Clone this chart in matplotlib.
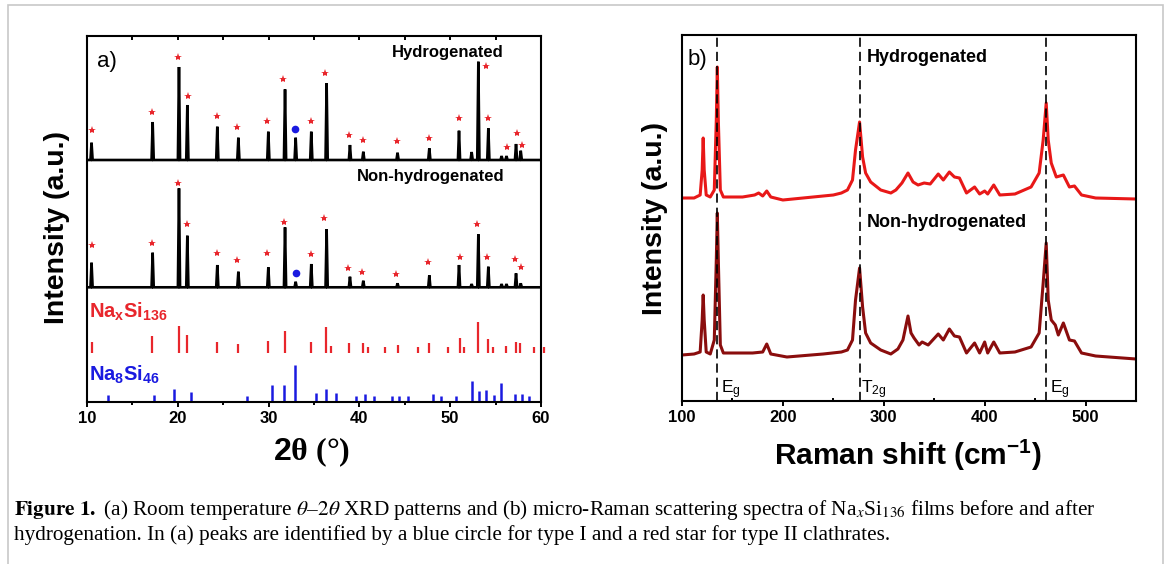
import numpy as np
import matplotlib
matplotlib.use("Agg")
import matplotlib.pyplot as plt
from matplotlib.patches import Rectangle

plt.rcParams["font.family"] = ["Liberation Sans", "DejaVu Sans"]
plt.rcParams["mathtext.fontset"] = "custom"
plt.rcParams["mathtext.rm"] = "Liberation Sans"
plt.rcParams["mathtext.it"] = "Liberation Sans:italic"
plt.rcParams["mathtext.bf"] = "Liberation Sans:bold"

# ---------------- data: (a) XRD ----------------
xrd_peaks = [10.5, 17.23, 20.13, 21.05, 24.35, 26.67, 29.97, 31.81, 32.98, 34.7, 36.39,
             38.96, 40.43, 44.2, 47.7, 50.97, 52.36, 53.1, 54.2, 55.66, 56.2, 57.25, 57.77]
xrd_hyd_heights = [17.3, 38, 93, 55, 33.3, 22.3, 28.3, 70.7, 22.3, 28.3, 76.7,
                   15, 8.3, 7.3, 11.7, 29.3, 8, 98.3, 31.7, 4, 4, 16, 9.3]
xrd_non_heights = [24.6, 34.6, 99, 51.6, 22.3, 15.6, 20, 60, 5.6, 23.3, 58,
                   10.6, 6.6, 4, 12, 22.3, 3.3, 53, 20.6, 3.3, 3.3, 14, 4]
xrd_hyd_offset = 242
xrd_non_offset = 114.7

hyd_star_x = [10.58, 17.12, 20.06, 21.09, 24.28, 26.55, 29.86, 31.62, 34.67, 36.21,
              38.85, 40.43, 44.1, 47.67, 50.97, 53.94, 54.13, 56.22, 57.32, 57.87]
hyd_star_y = [272, 290.3, 344.7, 306, 286, 275.3, 281.3, 322.7, 281.3, 328.7,
              267, 262, 261, 263.7, 283.7, 336.3, 283.7, 254.7, 268.7, 257]
non_star_x = [10.58, 17.12, 19.99, 20.98, 24.28, 26.55, 29.79, 31.70, 34.67, 36.10,
              38.71, 40.32, 44.03, 47.59, 51.08, 52.99, 54.02, 57.17, 57.80]
non_star_y = [157, 159.3, 219.3, 177.7, 148.7, 142, 148.7, 179.7, 147.7, 183.7,
              133.7, 129.7, 127.7, 139.7, 144.7, 177.7, 144.7, 142.7, 134.7]
circle_x = [32.91, 33.02]
circle_y = [272.7, 129.3]

na136_pos = [10.5, 17.2, 20.1, 21.0, 24.35, 26.6, 29.9, 31.8, 34.7, 36.3, 36.85, 38.9,
             40.35, 40.9, 42.8, 44.2, 46.4, 47.7, 49.8, 51.05, 51.5, 53.1, 54.2, 54.7,
             56.2, 57.3, 57.7, 59.2, 60.3]
na136_h = [11.6, 17.3, 27.3, 18.3, 11.6, 9.3, 12.3, 22.3, 11.6, 26, 7.6, 10,
           10, 6.6, 6.6, 8.3, 6.6, 10, 6.6, 15, 6.6, 31, 14.3, 6.6,
           7.6, 11, 10, 6.6, 6.6]
na136_base = 48.7
na46_pos = [12.3, 17.4, 19.55, 21.4, 27.6, 30.4, 31.7, 32.95, 35.25, 36.35, 37.45, 39.6,
            40.6, 41.6, 43.6, 44.4, 45.35, 48.1, 49.0, 50.65, 52.4, 53.15, 53.95, 54.8,
            55.6, 57.15, 57.9, 58.65]
na46_h = [5.7, 5.7, 11.4, 8.4, 4.7, 15.7, 15.7, 35.7, 7.4, 11.4, 8, 4.7,
          6.7, 5, 4.7, 5, 4.7, 6.7, 4.7, 4.7, 20, 10, 10.7, 5.7,
          17.4, 6.7, 6.7, 4.7]
na46_base = 1.3
xrd_ticks = [10, 20, 30, 40, 50, 60]

# ---------------- data: (b) Raman ----------------
raman_x_h = [100, 112, 118, 120, 121, 122, 124, 128, 132, 134,
             135, 136, 138, 141, 160, 172, 176, 180, 184, 188,
             200, 230, 250, 258, 264, 269, 272, 276, 279, 282,
             287, 297, 307, 312, 318, 324, 329, 334, 340, 346,
             354, 359, 365, 370, 375, 382, 390, 395, 400, 403,
             409, 415, 430, 446, 454, 458, 461, 463, 466, 471,
             478, 484, 489, 496, 510, 550]
raman_y_h = [203, 203, 206, 231, 263, 231, 206, 204, 211, 281,
             334, 281, 211, 204, 204, 206, 208, 205, 210, 204,
             201, 204, 206, 208, 211, 221, 251, 279, 244, 228,
             219, 211, 208, 211, 218, 228, 219, 216, 218, 217,
             227, 221, 229, 224, 223, 208, 214, 207, 210, 207,
             216, 206, 207, 214, 228, 261, 298, 261, 238, 224,
             226, 214, 215, 206, 203, 202]
raman_x_n = [100, 112, 118, 120, 121, 122, 124, 128, 132, 134,
             135, 136, 138, 141, 170, 180, 184, 188, 204, 240,
             258, 264, 269, 272, 276, 279, 282, 287, 297, 307,
             314, 319, 324, 327, 330, 335, 338, 344, 354, 359,
             365, 370, 375, 382, 390, 395, 400, 403, 409, 415,
             430, 446, 454, 458, 461, 463, 466, 470, 473, 478,
             484, 489, 496, 510, 550]
raman_y_n = [46, 47, 49, 81, 106, 81, 49, 47, 61, 141,
             188, 141, 56, 48, 48, 49, 57, 47, 44, 47,
             49, 51, 61, 101, 133, 94, 68, 58, 51, 47,
             52, 61, 85, 68, 63, 56, 59, 56, 67, 61,
             72, 65, 64, 48, 58, 48, 59, 48, 59, 48,
             49, 54, 68, 118, 158, 101, 81, 76, 66, 78,
             61, 60, 48, 45, 42]
mode_pos = [135, 276, 461]
mode_labels = ["E$_\\mathrm{g}$", "T$_\\mathrm{2g}$", "E$_\\mathrm{g}$"]
raman_ticks = [100, 200, 300, 400, 500]

RED = "#e8262c"
BLUE = "#1a1ae0"
W, H = 1168, 564

fig = plt.figure(figsize=(W / 100, H / 100), dpi=100)


def ftext(xp, yp, s, **kw):
    return fig.text(xp / W, 1 - yp / H, s, **kw)


def xrd_line(pos, heights, base, hw=0.12):
    xs, ys = [10], [base]
    for p, h in sorted(zip(pos, heights)):
        xs += [p - hw, p, p + hw]
        ys += [base, base + h, base]
    xs.append(60)
    ys.append(base)
    return xs, ys


# ---------------- panel (a) ----------------
axA = fig.add_axes([87 / W, 1 - 402 / H, 454 / W, 366 / H])
axA.set_xlim(10, 60)
axA.set_ylim(0, 366)
for xs_, hs_, off in [(xrd_peaks, xrd_hyd_heights, xrd_hyd_offset),
                      (xrd_peaks, xrd_non_heights, xrd_non_offset)]:
    lx, ly = xrd_line(xs_, hs_, off)
    axA.plot(lx, ly, color="black", lw=1.9, solid_joinstyle="miter")
axA.plot(hyd_star_x, hyd_star_y, ls="none", marker="*", ms=6, color=RED, mew=0)
axA.plot(non_star_x, non_star_y, ls="none", marker="*", ms=6, color=RED, mew=0)
axA.plot(circle_x, circle_y, ls="none", marker="o", ms=5.5, color=BLUE, mew=0)
axA.vlines(na136_pos, na136_base, np.array(na136_h) + na136_base, color=RED, lw=1.6,
           clip_on=False)
axA.vlines(na46_pos, na46_base, np.array(na46_h) + na46_base, color=BLUE, lw=1.8)
axA.set_yticks([])
axA.set_xticks(xrd_ticks)
axA.set_xticks([15, 25, 35, 45, 55], minor=True)
axA.tick_params(axis="x", which="major", direction="out", length=3.8, width=1.4,
                labelsize=12, pad=3)
axA.tick_params(axis="x", which="minor", direction="out", length=2, width=1.4)
for lab in axA.get_xticklabels():
    lab.set_fontweight("bold")
secA = axA.secondary_xaxis("top")
secA.set_xticks(xrd_ticks)
secA.set_xticks([15, 25, 35, 45, 55], minor=True)
secA.tick_params(which="both", direction="in", length=3, width=1.4, labeltop=False)
secA.spines["top"].set_visible(False)
for sp in axA.spines.values():
    sp.set_linewidth(1.5)

ftext(97, 61, "a)", fontsize=16, va="center", ha="left")
ftext(504, 52, "Hydrogenated", fontsize=12, fontweight="bold", va="center", ha="right")
ftext(505, 177, "Non-hydrogenated", fontsize=12, fontweight="bold", va="center", ha="right")
ftext(89, 312, r"$\mathbf{Na_xSi_{136}}$", fontsize=14.5, color=RED, va="center", ha="left")
ftext(89, 375, r"$\mathbf{Na_8Si_{46}}$", fontsize=14.5, color=BLUE, va="center", ha="left")
ftext(57, 228, "Intensity (a.u.)", fontsize=20.5, fontweight="bold", rotation=90,
      va="center", ha="center")
ftext(312, 452, r"$\mathbf{2}$θ (°)", fontsize=23, fontweight="bold",
      family=["Liberation Serif"], va="center", ha="center")

# ---------------- panel (b) ----------------
axB = fig.add_axes([682 / W, 1 - 401 / H, 454 / W, 366 / H])
axB.set_xlim(100, 550)
axB.set_ylim(0, 366)
axB.plot(raman_x_h, raman_y_h, color="#e81818", lw=2.2, solid_joinstyle="round")
axB.plot(raman_x_n, raman_y_n, color="#8a0d0d", lw=2.2, solid_joinstyle="round")
for xm, lab in zip(mode_pos, mode_labels):
    axB.axvline(xm, color="black", lw=1.2, linestyle=(0, (5.5, 3)))
    dx = 1.5 if "2g" in lab else 4
    axB.text(xm + dx, 11, lab, fontsize=12.5, va="center", ha="left")
axB.set_yticks([])
axB.set_xticks(raman_ticks)
axB.set_xticks([150, 250, 350, 450, 550], minor=True)
axB.tick_params(axis="x", which="major", direction="out", length=3.8, width=1.4,
                labelsize=12, pad=3)
axB.tick_params(axis="x", which="minor", direction="in", length=2.2, width=1.4)
for lab in axB.get_xticklabels():
    lab.set_fontweight("bold")
for sp in axB.spines.values():
    sp.set_linewidth(1.5)

ftext(688, 60, "b)", fontsize=16, va="center", ha="left")
ftext(867, 58, "Hydrogenated", fontsize=13, fontweight="bold", va="center", ha="left")
ftext(867, 223, "Non-hydrogenated", fontsize=13, fontweight="bold", va="center", ha="left")
ftext(655, 218, "Intensity (a.u.)", fontsize=20.5, fontweight="bold", rotation=90,
      va="center", ha="center")
ftext(908, 455, r"Raman shift (cm$^{\mathbf{-1}}$)", fontsize=21.5, fontweight="bold",
      va="center", ha="center")

# ---------------- caption & frame ----------------
cap1 = (r"$\mathbf{Figure\ 1.}$ (a) Room temperature $\mathit{\theta}$–$\mathit{2\theta}$ XRD "
        r"patterns and (b) micro-Raman scattering spectra of Na$_\mathit{x}$Si$_{136}$ films "
        r"before and after")
cap2 = ("hydrogenation. In (a) peaks are identified by a blue circle for type I and a red "
        "star for type II clathrates.")
ftext(14, 510, cap1, fontsize=15.3, family=["Liberation Serif"], math_fontfamily="stix",
      va="center", ha="left")
ftext(14, 535, cap2, fontsize=15.3, family=["Liberation Serif"], math_fontfamily="stix",
      va="center", ha="left")

fig.patches.append(Rectangle((8 / W, -0.05), (1163 - 8) / W, 1 - 5 / H + 0.05,
                             transform=fig.transFigure, fill=False, ec="#c8c8c8", lw=1.2))

fig.savefig("out.png", dpi=100)
